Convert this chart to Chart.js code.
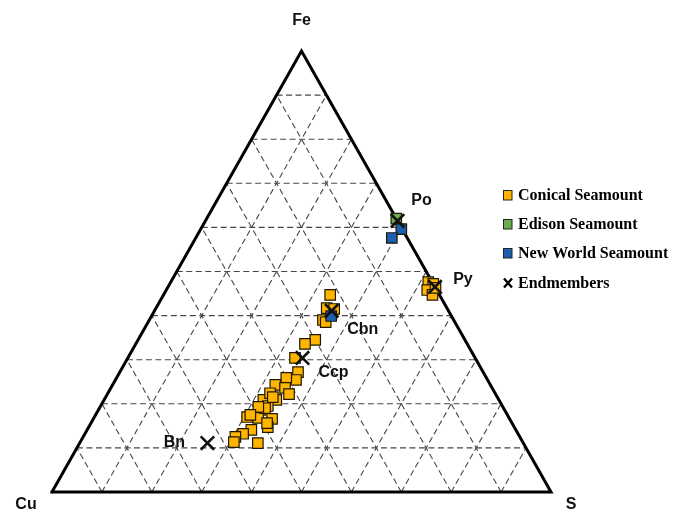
<!DOCTYPE html>
<html>
<head>
<meta charset="utf-8">
<script src="https://cdn.jsdelivr.net/npm/chart.js@4.4.0/dist/chart.umd.min.js"></script>
<style>
  html, body { margin: 0; padding: 0; background: #ffffff; }
  canvas { display: block; }
</style>
</head>
<body>
<canvas id="ternary" width="673" height="514"></canvas>
<script>
// Cu–Fe–S compositions, wt.%
const conicalCu = [21.9, 24.1, 22.7, 26.2, 25.9, 30.0, 32.5, 36.1, 37.1, 38.4, 40.1, 43.1, 41.5, 41.4, 44.6, 47.2, 47.0, 49.0, 52.4, 50.3, 47.6, 49.4, 53.0, 55.1, 57.0, 57.9, 53.2, 47.8, 45.1, 45.0, 49.0, 51.5, 49.1,
                   0.8, 0.0, 1.9, 1.4, 0.0];
const conicalFe = [44.7, 41.7, 41.5, 39.0, 38.5, 34.5, 33.6, 30.4, 27.2, 25.4, 25.9, 24.3, 23.6, 22.2, 20.9, 20.9, 19.5, 18.6, 17.0, 16.8, 16.6, 14.7, 14.1, 13.2, 12.5, 11.3, 11.1, 19.0, 22.4, 21.5, 19.3, 17.5, 15.6,
                   47.6, 47.2, 45.8, 44.7, 46.3];
const conicalS  = [33.4, 34.2, 35.8, 34.8, 35.6, 35.5, 33.9, 33.5, 35.7, 36.2, 34.0, 32.6, 34.9, 36.4, 34.5, 31.9, 33.5, 32.4, 30.6, 32.9, 35.8, 35.9, 32.9, 31.7, 30.5, 30.8, 35.7, 33.2, 32.5, 33.5, 31.7, 31.0, 35.3,
                   51.6, 52.8, 52.3, 53.9, 53.7];

const edisonCu = [0.0];
const edisonFe = [62.0];
const edisonS  = [38.0];

const newWorldCu = [0.2, 3.1, 24.1];
const newWorldFe = [59.6, 57.6, 39.9];
const newWorldS  = [40.2, 39.3, 36.0];

// Mineral endmembers: pyrrhotite, pyrite, cubanite, chalcopyrite, bornite
const endmemberNames = ['Po', 'Py', 'Cbn', 'Ccp', 'Bn'];
const endmemberCu = [0.0, 0.0, 23.4, 34.6, 63.3];
const endmemberFe = [61.5, 46.5, 41.1, 30.4, 11.1];
const endmemberS  = [38.5, 53.5, 35.5, 35.0, 25.6];

const apexNames = ['Cu', 'Fe', 'S'];
const gridLevels = [10, 20, 30, 40, 50, 60, 70, 80, 90];

const seriesNames = ['Conical Seamount', 'Edison Seamount', 'New World Seamount', 'Endmembers'];
const seriesColors = ['#FFB400', '#6BAE4E', '#1C5FB0', '#000000'];

// Ternary -> cartesian: Cu bottom-left, S bottom-right, Fe at the apex
function toXY(cu, fe, s) {
  const t = cu + fe + s;
  const f = fe / t, sf = s / t;
  return { x: (sf + f / 2) * 100, y: f * 100 };
}
function series(cu, fe, s) {
  return cu.map((c, i) => toXY(c, fe[i], s[i]));
}

const gridSets = [];
gridLevels.forEach(v => {
  const lines = [
    [toXY(100 - v, v, 0), toXY(0, v, 100 - v)],      // constant Fe
    [toXY(100 - v, 0, v), toXY(0, 100 - v, v)],      // constant S
    [toXY(v, 0, 100 - v), toXY(v, 100 - v, 0)]       // constant Cu
  ];
  lines.forEach(pts => gridSets.push({
    data: pts, showLine: true, pointRadius: 0, borderColor: '#474747',
    borderWidth: 1.1, borderDash: [6, 3.5], clip: false
  }));
});

const outline = {
  data: [toXY(100, 0, 0), toXY(0, 0, 100), toXY(0, 100, 0), toXY(100, 0, 0)],
  showLine: true, pointRadius: 0, borderColor: '#000000', borderWidth: 3,
  borderJoinStyle: 'miter', borderCapStyle: 'square', clip: false
};

const squareStyle = (color) => ({
  pointStyle: 'rect', pointRadius: 7.4, backgroundColor: color,
  borderColor: '#1e1800', borderWidth: 1.2, showLine: false, clip: false
});

const datasets = [
  Object.assign({ label: seriesNames[3], data: series(endmemberCu, endmemberFe, endmemberS),
    pointStyle: 'crossRot', pointRadius: 9.5, borderColor: '#111111', borderWidth: 2.6,
    showLine: false, clip: false }),
  Object.assign({ label: seriesNames[2], data: series(newWorldCu, newWorldFe, newWorldS) }, squareStyle(seriesColors[2])),
  Object.assign({ label: seriesNames[1], data: series(edisonCu, edisonFe, edisonS) }, squareStyle(seriesColors[1])),
  Object.assign({ label: seriesNames[0], data: series(conicalCu, conicalFe, conicalS) }, squareStyle(seriesColors[0])),
  outline
].concat(gridSets);

// Apex labels, endmember labels and the key
const labelOffsets = { Po: [24, -20], Py: [28, -7], Cbn: [31, 19], Ccp: [31, 15], Bn: [-33, 0] };
const apexOffsets = { Cu: [-26, 13], Fe: [0, -30], S: [20, 13] };

const annotate = {
  id: 'annotate',
  afterDatasetsDraw(chart) {
    const { ctx, scales: { x, y } } = chart;
    ctx.save();
    ctx.fillStyle = '#111111';
    ctx.textAlign = 'center';
    ctx.textBaseline = 'middle';
    ctx.font = 'bold 16px "Liberation Sans", Arial, sans-serif';
    const apexPts = [toXY(100, 0, 0), toXY(0, 100, 0), toXY(0, 0, 100)];
    apexNames.forEach((n, i) => {
      const o = apexOffsets[n];
      ctx.fillText(n, x.getPixelForValue(apexPts[i].x) + o[0], y.getPixelForValue(apexPts[i].y) + o[1]);
    });
    const em = series(endmemberCu, endmemberFe, endmemberS);
    endmemberNames.forEach((n, i) => {
      const o = labelOffsets[n];
      ctx.fillText(n, x.getPixelForValue(em[i].x) + o[0], y.getPixelForValue(em[i].y) + o[1]);
    });

    // key
    const kx = 503, rows = [195, 224, 253, 283];
    ctx.textAlign = 'left';
    ctx.font = 'bold 16px "Liberation Serif", "Times New Roman", serif';
    seriesNames.forEach((n, i) => {
      const cy = rows[i];
      if (i < 3) {
        ctx.fillStyle = seriesColors[i];
        ctx.fillRect(kx, cy - 5, 9, 10);
        ctx.strokeStyle = '#222222';
        ctx.lineWidth = 1;
        ctx.strokeRect(kx + 0.5, cy - 4.5, 8.5, 9.5);
      } else {
        ctx.strokeStyle = '#000000';
        ctx.lineWidth = 2.4;
        ctx.beginPath();
        ctx.moveTo(kx + 1, cy - 4.5); ctx.lineTo(kx + 9, cy + 4.5);
        ctx.moveTo(kx + 9, cy - 4.5); ctx.lineTo(kx + 1, cy + 4.5);
        ctx.stroke();
      }
      ctx.fillStyle = '#000000';
      ctx.fillText(n, kx + 15, cy + 1);
    });
    ctx.restore();
  }
};

new Chart(document.getElementById('ternary'), {
  type: 'scatter',
  data: { datasets },
  options: {
    responsive: false,
    animation: false,
    events: [],
    layout: { padding: { left: 52, right: 122, top: 51, bottom: 22 } },
    scales: {
      x: { type: 'linear', min: 0, max: 100, display: false },
      y: { type: 'linear', min: 0, max: 100, display: false }
    },
    plugins: { legend: { display: false }, tooltip: { enabled: false } }
  },
  plugins: [annotate]
});
</script>
</body>
</html>
